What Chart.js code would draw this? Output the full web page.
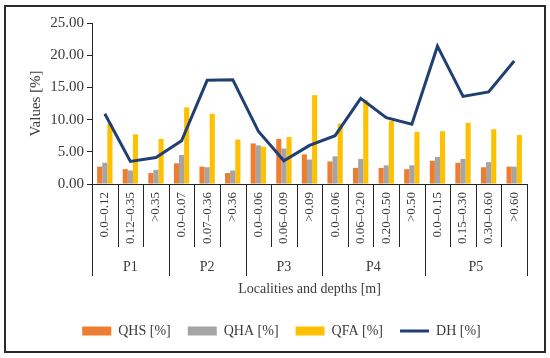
<!DOCTYPE html>
<html>
<head>
<meta charset="utf-8">
<script src="https://cdn.jsdelivr.net/npm/chart.js@4"></script>
<style>
  html, body { margin: 0; padding: 0; background: #fff; }
</style>
</head>
<body>
<canvas id="chart" width="550" height="358"></canvas>
<script>
// ----- DATA -----
const localities = ['P1', 'P2', 'P3', 'P4', 'P5']
const groupSizes = [3, 3, 3, 4, 4] // depth classes per locality
const depths = [
  '0.0–0.12', '0.12–0.35', '>0.35',
  '0.0–0.07', '0.07–0.36', '>0.36',
  '0.0–0.06', '0.06–0.09', '>0.09',
  '0.0–0.06', '0.06–0.20', '0.20–0.50', '>0.50',
  '0.0–0.15', '0.15–0.30', '0.30–0.60', '>0.60',
]
const qhs = [2.7, 2.3, 1.7, 3.2, 2.7, 1.7, 6.3, 7.0, 4.6, 3.5, 2.5, 2.5, 2.3, 3.6, 3.3, 2.6, 2.7]
const qha = [3.3, 2.1, 2.2, 4.5, 2.6, 2.1, 6.0, 5.5, 3.8, 4.3, 3.9, 2.9, 2.9, 4.2, 3.9, 3.4, 2.7]
const qfa = [9.4, 7.7, 7.0, 11.9, 10.9, 6.9, 5.8, 7.3, 13.8, 9.4, 13.0, 9.8, 8.1, 8.2, 9.5, 8.5, 7.6]
const dh = [10.9, 3.5, 4.1, 6.7, 16.1, 16.2, 8.2, 3.6, 6.0, 7.5, 13.3, 10.3, 9.3, 21.4, 13.6, 14.3, 19.1]
const yMax = 25
const yStep = 5

// ----- STYLE -----
const FONT = '"Liberation Serif", "Times New Roman", serif'
const TEXT = '#3a3a3a'
const AXIS = '#262626'

// ----- FRAME, Y TITLE AND GROUPED X AXIS -----
const groupAxis = {
  id: 'groupAxis',
  beforeDraw(chart) {
    const c = chart.ctx
    c.save()
    c.fillStyle = '#fff'
    c.fillRect(0, 0, chart.width, chart.height)
    c.strokeStyle = '#2b2b2b'
    c.lineWidth = 2
    c.strokeRect(5, 6, 540, 346)
    c.restore()
  },
  afterDraw(chart) {
    const c = chart.ctx
    const x = chart.scales.x
    const area = chart.chartArea
    const step = (area.right - area.left) / depths.length
    const base = area.bottom
    c.save()
    c.strokeStyle = AXIS
    c.lineWidth = 1

    // separators between depth classes, longer ones between localities
    const groupEdges = [0]
    groupSizes.reduce((acc, n) => { groupEdges.push(acc + n); return acc + n }, 0)
    for (let i = 0; i <= depths.length; i++) {
      const px = Math.round(area.left + i * step) + 0.5
      const long = groupEdges.includes(i)
      c.beginPath()
      c.moveTo(px, base)
      c.lineTo(px, long ? 276 : 247)
      c.stroke()
    }

    // rotated depth labels
    c.fillStyle = TEXT
    c.font = '13px ' + FONT
    depths.forEach((d, i) => {
      c.save()
      c.translate(x.getPixelForValue(i), base + 8)
      c.rotate(-Math.PI / 2)
      c.textAlign = 'right'
      c.textBaseline = 'middle'
      c.fillText(d, 0, 0)
      c.restore()
    })

    // locality labels
    c.font = '14px ' + FONT
    c.textAlign = 'center'
    c.textBaseline = 'middle'
    localities.forEach((loc, g) => {
      const from = groupEdges[g]
      const to = groupEdges[g + 1]
      const mid = (x.getPixelForValue(from) + x.getPixelForValue(to - 1)) / 2
      c.fillText(loc, mid, 267)
    })

    // axis titles
    c.fillText('Localities and depths [m]', (area.left + area.right) / 2, 289)
    c.font = '15px ' + FONT
    c.translate(36, (area.top + area.bottom) / 2)
    c.rotate(-Math.PI / 2)
    c.fillText('Values [%]', 0, 0)
    c.restore()
  },
}

// ----- CHART -----
new Chart(document.getElementById('chart'), {
  type: 'bar',
  data: {
    labels: depths,
    datasets: [
      { label: 'QHS [%]', data: qhs, backgroundColor: '#ed7d31', pointStyle: 'rect', order: 1 },
      { label: 'QHA [%]', data: qha, backgroundColor: '#a5a5a5', pointStyle: 'rect', order: 1 },
      { label: 'QFA [%]', data: qfa, backgroundColor: '#ffc000', pointStyle: 'rect', order: 1 },
      {
        type: 'line',
        label: 'DH [%]',
        data: dh,
        borderColor: '#203f73',
        backgroundColor: '#203f73',
        borderWidth: 3,
        pointRadius: 0,
        pointStyle: 'line',
        tension: 0,
        order: 0,
      },
    ],
  },
  options: {
    responsive: false,
    animation: false,
    events: [],
    // left padding keeps the legend centred like the original
    layout: { padding: { left: 36, right: 23, top: 23, bottom: 10 } },
    datasets: { bar: { categoryPercentage: 0.6, barPercentage: 1 } },
    plugins: {
      tooltip: { enabled: false },
      legend: {
        position: 'bottom',
        labels: {
          usePointStyle: true,
          pointStyleWidth: 29,
          boxHeight: 9,
          padding: 17,
          color: TEXT,
          font: { family: FONT, size: 14 },
          sort: (a, b) => a.datasetIndex - b.datasetIndex,
        },
      },
    },
    scales: {
      x: {
        grid: { display: false },
        ticks: { display: false },
        border: { display: true, color: AXIS, width: 1 },
        afterFit: (s) => { s.height = 123 },
      },
      y: {
        min: 0,
        max: yMax,
        ticks: {
          stepSize: yStep,
          padding: 3,
          color: TEXT,
          font: { family: FONT, size: 15 },
          callback: (v) => v.toFixed(2),
        },
        grid: { drawOnChartArea: false, drawTicks: true, tickLength: 5, color: AXIS },
        border: { display: true, color: AXIS, width: 1 },
        afterFit: (s) => { s.width = 56 },
      },
    },
  },
  plugins: [groupAxis],
})
</script>
</body>
</html>
